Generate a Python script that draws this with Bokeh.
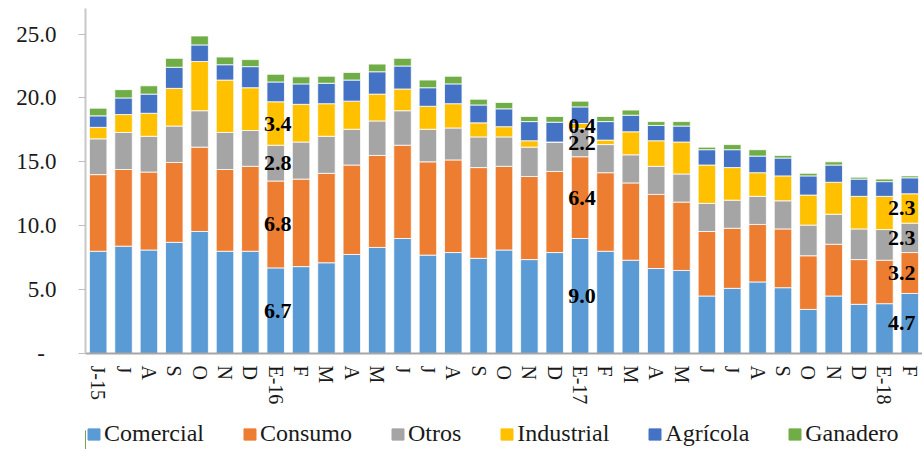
from bokeh.plotting import figure
from bokeh.layouts import column
from bokeh.models import ColumnDataSource, Range1d, FixedTicker, Legend, LegendItem
from bokeh.core.properties import value
from bokeh.embed import file_html
from bokeh.resources import INLINE

months = ["J-15", "J", "A", "S", "O", "N", "D", "E-16", "F", "M", "A", "M", "J",
          "J", "A", "S", "O", "N", "D", "E-17", "F", "M", "A", "M", "J", "J", "A",
          "S", "O", "N", "D", "E-18", "F"]

comercial = [8.0, 8.4, 8.1, 8.7, 9.55, 8.0, 8.0, 6.7, 6.8, 7.1, 7.75, 8.3, 9.0,
             7.7, 7.9, 7.45, 8.1, 7.35, 7.9, 9.0, 8.0, 7.3, 6.65, 6.5, 4.5, 5.1, 5.6,
             5.15, 3.45, 4.5, 3.85, 3.9, 4.7]
consumo = [6.0, 6.0, 6.1, 6.25, 6.6, 6.4, 6.65, 6.8, 6.85, 7.0, 7.0, 7.2, 7.3,
           7.3, 7.25, 7.1, 6.55, 6.5, 6.35, 6.4, 6.15, 6.05, 5.8, 5.35, 5.05, 4.7, 4.5,
           4.6, 4.2, 4.05, 3.5, 3.4, 3.2]
otros = [2.8, 2.9, 2.8, 2.85, 2.85, 2.9, 2.8, 2.8, 2.9, 2.9, 2.8, 2.7, 2.7,
         2.55, 2.5, 2.4, 2.3, 2.3, 2.3, 2.2, 2.2, 2.2, 2.2, 2.2, 2.2, 2.2, 2.2,
         2.2, 2.4, 2.35, 2.4, 2.4, 2.3]
industrial = [0.9, 1.4, 1.8, 2.95, 3.85, 4.1, 3.35, 3.4, 2.95, 2.55, 2.2, 2.1, 1.7,
              1.8, 1.9, 1.1, 0.8, 0.5, 0.0, 0.4, 0.35, 1.8, 2.0, 2.5, 3.0, 2.55, 1.85,
              1.95, 2.35, 2.5, 2.55, 2.6, 2.3]
agricola = [0.9, 1.3, 1.5, 1.65, 1.3, 1.2, 1.65, 1.55, 1.6, 1.6, 1.65, 1.75, 1.8,
            1.45, 1.55, 1.4, 1.4, 1.5, 1.55, 1.3, 1.45, 1.3, 1.2, 1.25, 1.2, 1.4, 1.3,
            1.4, 1.5, 1.35, 1.35, 1.15, 1.25]
ganadero = [0.6, 0.65, 0.65, 0.7, 0.7, 0.6, 0.55, 0.6, 0.55, 0.55, 0.6, 0.6, 0.6,
            0.6, 0.6, 0.45, 0.5, 0.4, 0.45, 0.45, 0.4, 0.4, 0.3, 0.35, 0.2, 0.4, 0.5,
            0.2, 0.2, 0.25, 0.15, 0.2, 0.15]

series_names = ["Comercial", "Consumo", "Otros", "Industrial", "Agrícola", "Ganadero"]
series_values = [comercial, consumo, otros, industrial, agricola, ganadero]
colors = ["#5B9BD5", "#ED7D31", "#A5A5A5", "#FFC000", "#4472C4", "#70AD47"]

y_ticks = [0, 5, 10, 15, 20, 25]
y_tick_labels = ["-\u00a0\u00a0", "5.0", "10.0", "15.0", "20.0", "25.0"]

labeled_bars = [7, 19, 32]      # E-16, E-17, F
labeled_series_count = 4

FONT = "Liberation Serif"

x = list(range(len(months)))
data = {"x": x}
keys = ["s%d" % i for i in range(len(series_names))]
for k, vals in zip(keys, series_values):
    data[k] = vals
source = ColumnDataSource(data)

p = figure(width=922, height=412, output_backend="svg", toolbar_location=None,
           x_range=Range1d(-0.5, len(months) - 0.5), y_range=Range1d(0, 27),
           min_border_left=85, min_border_right=0, min_border_top=8,
           min_border_bottom=59)
p.outline_line_color = None
p.background_fill_color = "white"
p.border_fill_color = "white"

renderers = p.vbar_stack(keys, x="x", width=0.69, color=colors, source=source,
                         line_color="white", line_width=0.8)

# data labels
lx, ly, lt, ldx = [], [], [], []
for b in labeled_bars:
    base = 0.0
    for s in range(labeled_series_count):
        v = series_values[s][b]
        lx.append(b)
        ly.append(base + v / 2.0)
        lt.append("%.1f" % v)
        ldx.append(-8 if b == len(months) - 1 else 2)
        base += v
lsrc = ColumnDataSource(dict(x=lx, y=ly, t=lt, dx=ldx))
p.text(x="x", y="y", text="t", source=lsrc, x_offset="dx",
       text_font=value(FONT), text_font_style="bold", text_font_size="22px",
       text_align="center", text_baseline="middle", text_color="black")

# axes
p.xgrid.visible = False
p.ygrid.visible = False

xa = p.xaxis[0]
xa.ticker = FixedTicker(ticks=x)
xa.major_label_overrides = {i: m for i, m in enumerate(months)}
xa.major_label_orientation = "vertical"
xa.major_label_text_font = FONT
xa.major_label_text_font_size = "20px"
xa.major_label_text_color = "#1a1a1a"
xa.major_label_standoff = 12
xa.major_tick_out = 0
xa.major_tick_in = 0
xa.minor_tick_out = 0
xa.minor_tick_in = 0
xa.axis_line_color = "#A6A6A6"
xa.axis_line_width = 2

ya = p.yaxis[0]
ya.ticker = FixedTicker(ticks=y_ticks)
ya.major_label_overrides = {t: l for t, l in zip(y_ticks, y_tick_labels)}
ya.major_label_text_font = FONT
ya.major_label_text_font_size = "23px"
ya.major_label_text_color = "#1a1a1a"
ya.major_label_standoff = 22
ya.major_tick_out = 7
ya.major_tick_in = 0
ya.minor_tick_out = 0
ya.minor_tick_in = 0
ya.major_tick_line_color = "#BFBFBF"
ya.axis_line_color = "#C8C8C8"
ya.axis_line_width = 2

# legend strip (separate figure holding the legend swatches)
pl = figure(width=922, height=37, output_backend="svg", toolbar_location=None,
            x_range=Range1d(0, 1), y_range=Range1d(0, 1),
            x_axis_location=None, y_axis_location=None,
            min_border_left=0, min_border_right=0, min_border_top=0,
            min_border_bottom=0)
pl.outline_line_color = None
pl.xgrid.visible = False
pl.ygrid.visible = False
# swatch renderers sit outside the visible range; only their legend glyphs show
swatches = [pl.vbar(x=[-10], top=[0.5], width=0.5, color=c) for c in colors]
items = [LegendItem(label=n, renderers=[r]) for n, r in zip(series_names, swatches)]
legend = Legend(items=items, orientation="horizontal", location=(1, 2),
                label_text_font=FONT, label_text_font_size="24px",
                label_text_color="#1a1a1a",
                glyph_width=15, glyph_height=14, label_standoff=3, spacing=38,
                padding=0, margin=0, border_line_color=None,
                background_fill_alpha=0)
pl.add_layout(legend, "center")

layout = column(p, pl, spacing=0)

html = file_html(layout, INLINE)
open("out.html", "w").write(html)
